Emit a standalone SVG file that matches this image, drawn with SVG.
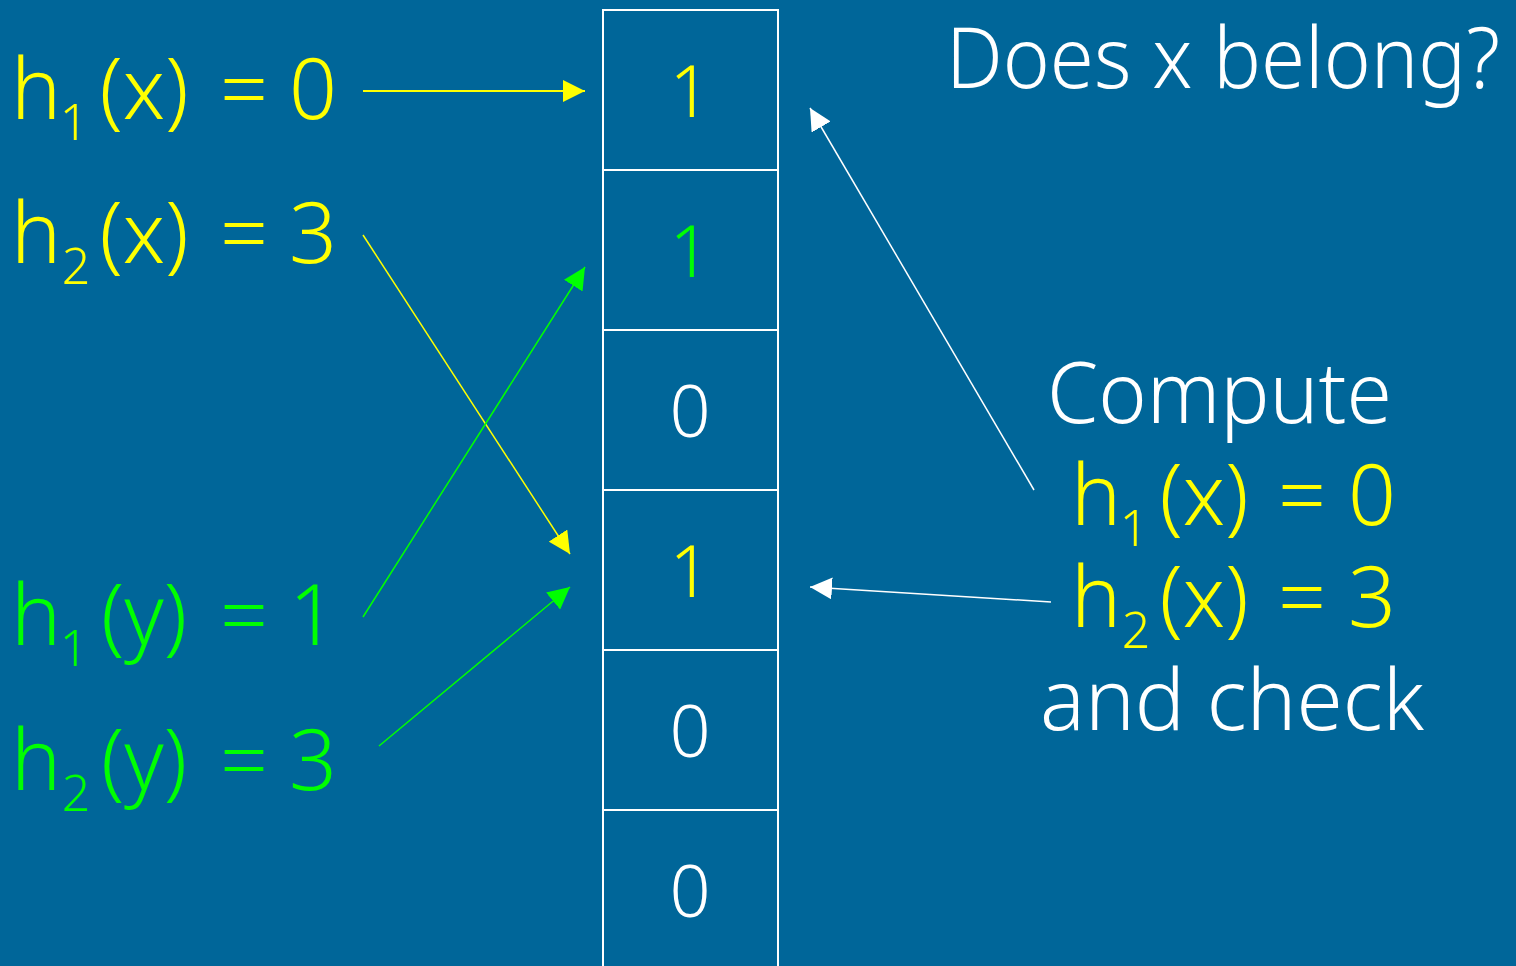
<svg xmlns="http://www.w3.org/2000/svg" width="1516" height="966" viewBox="0 0 1516 966">
<style>
text{font-family:"Noto Sans","Open Sans","DejaVu Sans",sans-serif;font-weight:300;text-anchor:middle}
.big{font-size:84px}
.sub{font-size:50px}
.cell{font-size:72px}
.st{text-anchor:start}
.y{fill:#FFFF00}
.g{fill:#00FF00}
.w{fill:#FFFFFF}
.box{fill:none;stroke:#FFFFFF;stroke-width:2}
</style>
<defs>
<marker id="ay" markerUnits="userSpaceOnUse" markerWidth="22" markerHeight="22" refX="22" refY="11" orient="auto"><path d="M0,0 L22,11 L0,22 z" fill="#FFFF00"/></marker>
<marker id="ag" markerUnits="userSpaceOnUse" markerWidth="22" markerHeight="22" refX="22" refY="11" orient="auto"><path d="M0,0 L22,11 L0,22 z" fill="#00FF00"/></marker>
<marker id="aw" markerUnits="userSpaceOnUse" markerWidth="22" markerHeight="22" refX="22" refY="11" orient="auto"><path d="M0,0 L22,11 L0,22 z" fill="#FFFFFF"/></marker>
</defs>
<rect width="1516" height="966" fill="#006699"/>

<g id="array">
<rect class="box" x="603" y="10" width="175" height="160"/>
<rect class="box" x="603" y="170" width="175" height="160"/>
<rect class="box" x="603" y="330" width="175" height="160"/>
<rect class="box" x="603" y="490" width="175" height="160"/>
<rect class="box" x="603" y="650" width="175" height="160"/>
<rect class="box" x="603" y="810" width="175" height="170"/>
<text class="cell y" x="690" y="117">1</text>
<text class="cell g" x="690" y="277">1</text>
<text class="cell w" x="690" y="437">0</text>
<text class="cell y" x="690" y="597">1</text>
<text class="cell w" x="690" y="757">0</text>
<text class="cell w" x="690" y="917">0</text>
</g>

<g id="h1x-left">
<text class="big y" x="36" y="119">h<tspan class="sub" x="74" y="140">1</tspan><tspan x="144" y="119">(x)</tspan><tspan x="244" y="119">=</tspan><tspan x="313" y="119">0</tspan></text>
</g>
<g id="h2x-left">
<text class="big y" x="36" y="263">h<tspan class="sub" x="76" y="284">2</tspan><tspan x="144" y="263">(x)</tspan><tspan x="244" y="263">=</tspan><tspan x="313" y="263">3</tspan></text>
</g>
<g id="h1y-left">
<text class="big g" x="36" y="645">h<tspan class="sub" x="74" y="666">1</tspan><tspan x="144" y="645">(y)</tspan><tspan x="244" y="645">=</tspan><tspan x="313" y="645">1</tspan></text>
</g>
<g id="h2y-left">
<text class="big g" x="36" y="790">h<tspan class="sub" x="76" y="811">2</tspan><tspan x="144" y="790">(y)</tspan><tspan x="244" y="790">=</tspan><tspan x="313" y="790">3</tspan></text>
</g>

<g id="question"><text class="big w st" x="946" y="88" textLength="554" lengthAdjust="spacingAndGlyphs">Does x belong?</text></g>
<g id="compute">
<text class="big w st" x="1047" y="423" textLength="345" lengthAdjust="spacingAndGlyphs">Compute</text>
<text class="big y" x="1096" y="525">h<tspan class="sub" x="1134" y="546">1</tspan><tspan x="1204" y="525">(x)</tspan><tspan x="1302" y="525">=</tspan><tspan x="1372" y="525">0</tspan></text>
<text class="big y" x="1096" y="627">h<tspan class="sub" x="1136" y="648">2</tspan><tspan x="1204" y="627">(x)</tspan><tspan x="1302" y="627">=</tspan><tspan x="1372" y="627">3</tspan></text>
<text class="big w st" x="1040" y="730" textLength="384" lengthAdjust="spacingAndGlyphs">and check</text>
</g>

<g id="connectors" fill="none">
<line x1="363" y1="91" x2="585" y2="91" stroke="#FFFF00" stroke-width="2" marker-end="url(#ay)"/>
<line x1="363" y1="235" x2="570" y2="554" stroke="#FFFF00" stroke-width="1.5" marker-end="url(#ay)"/>
<line x1="363" y1="617" x2="585" y2="267" stroke="#00FF00" stroke-width="1.5" marker-end="url(#ag)"/>
<line x1="379" y1="746" x2="570" y2="587" stroke="#00FF00" stroke-width="1.5" marker-end="url(#ag)"/>
<line x1="1034" y1="490" x2="810" y2="108" stroke="#FFFFFF" stroke-width="1.5" marker-end="url(#aw)"/>
<line x1="1051" y1="602" x2="810" y2="587" stroke="#FFFFFF" stroke-width="1.5" marker-end="url(#aw)"/>
</g>
</svg>
